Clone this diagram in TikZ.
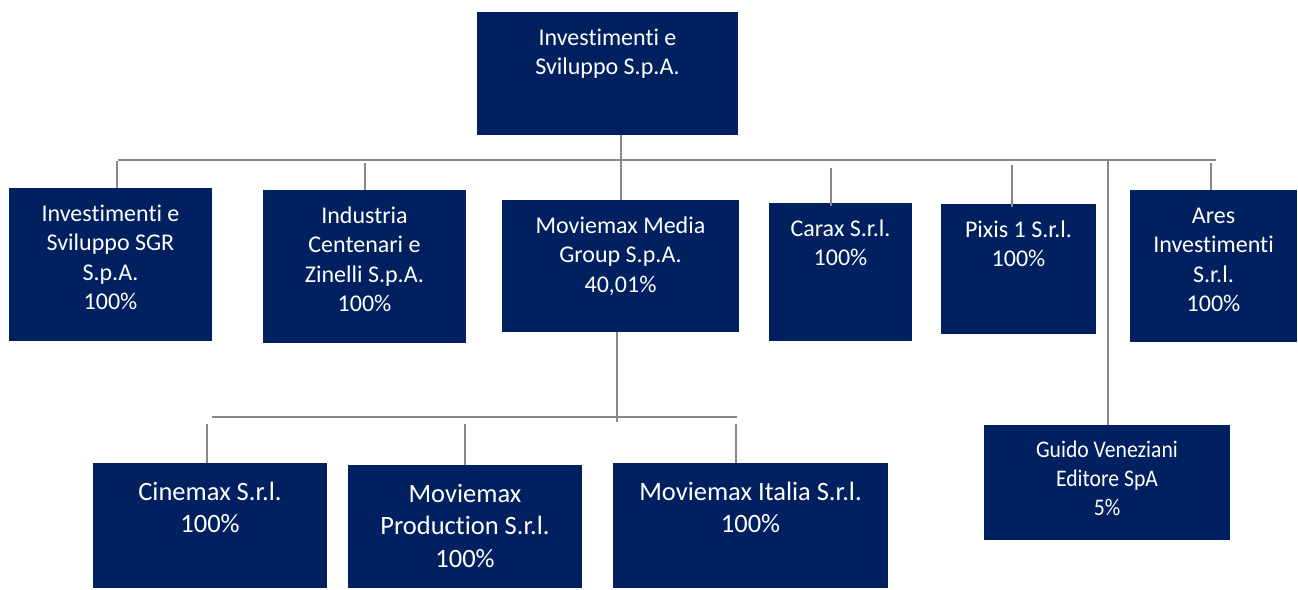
\documentclass[tikz,border=0pt]{standalone}
\usepackage{fontspec}
\setmainfont{Carlito}[Ligatures=NoCommon]
\newfontfamily\condfont[FakeStretch=0.91,Ligatures=NoCommon]{Carlito}
\definecolor{navy}{HTML}{002060}
\definecolor{linegray}{HTML}{888888}
\newcommand\orgtxt[4]{\parbox[c][#2pt][t]{#1pt}{\centering\rule{0pt}{#3pt}#4\par}}
\tikzset{
  orgbox/.style={rectangle, fill=navy, text=white, inner sep=0pt, outer sep=0pt},
  fmid/.style={font=\fontsize{24}{29.5}\selectfont},
  fbig/.style={font=\fontsize{26.5}{32.5}\selectfont},
  fcond/.style={font=\condfont\fontsize{23.8}{29}\selectfont},
  conn/.style={draw=linegray, line width=2.7pt}
}
\begin{document}
\begin{tikzpicture}[x=1pt,y=-1pt]
\useasboundingbox (0,0) rectangle (1298,589);
% boxes
\node[orgbox,fmid] (top) at (607.5,73.5) {\orgtxt{261}{123}{33}{Investimenti e\\Sviluppo S.p.A.}};
\node[orgbox,fmid] (b1) at (110.5,264.5) {\orgtxt{203}{153}{33}{Investimenti e\\Sviluppo SGR\\S.p.A.\\100\%}};
\node[orgbox,fmid] (b2) at (364.5,266.5) {\orgtxt{203}{153}{33}{Industria\\Centenari e\\Zinelli S.p.A.\\100\%}};
\node[orgbox,fmid] (b3) at (620.5,266) {\orgtxt{237}{132}{33}{Moviemax Media\\Group S.p.A.\\40,01\%}};
\node[orgbox,fmid] (b4) at (840.5,272) {\orgtxt{143}{138}{33}{Carax S.r.l.\\100\%}};
\node[orgbox,fmid] (b5) at (1018.5,269) {\orgtxt{155}{130}{33}{Pixis 1 S.r.l.\\100\%}};
\node[orgbox,fmid] (b6) at (1213.5,266) {\orgtxt{167}{152}{33}{Ares\\Investimenti\\S.r.l.\\100\%}};
\node[orgbox,fcond] (gv) at (1107,482.5) {\orgtxt{246}{115}{32}{Guido Veneziani\\Editore SpA\\5\%}};
\node[orgbox,fbig] (c1) at (210,525.5) {\orgtxt{234}{125}{37}{Cinemax S.r.l.\\100\%}};
\node[orgbox,fbig] (c2) at (465,526.5) {\orgtxt{234}{123}{37}{Moviemax\\Production S.r.l.\\100\%}};
\node[orgbox,fbig] (c3) at (750.5,525.5) {\orgtxt{275}{125}{37}{Moviemax Italia S.r.l.\\100\%}};
% upper bus
\coordinate (busL) at (118,160);
\coordinate (busR) at (1216,160);
\draw[conn] (busL) -- (busR);
\coordinate (sp) at (621,160);
\draw[conn] (top.south -| sp) -- (b3.north -| sp);
\coordinate (t1) at (117,161);
\coordinate (t2) at (365,163);
\coordinate (t4) at (831,168);
\coordinate (t5) at (1012,165);
\coordinate (t6) at (1211,163);
\draw[conn] (t1) -- (t1 |- b1.north);
\draw[conn] (t2) -- (t2 |- b2.north);
\draw[conn] (t4) -- ([yshift=-3pt]t4 |- b4.north);
\draw[conn] (t5) -- ([yshift=-3pt]t5 |- b5.north);
\draw[conn] (t6) -- (t6 |- b6.north);
\coordinate (g) at (1108,160);
\draw[conn] (g) -- (g |- gv.north);
% lower bus
\coordinate (mEnd) at (617,422);
\draw[conn] (b3.south -| mEnd) -- (mEnd);
\coordinate (lbL) at (212,417);
\coordinate (lbR) at (737,417);
\draw[conn] (lbL) -- (lbR);
\coordinate (u1) at (207,424);
\coordinate (u2) at (465,424);
\coordinate (u3) at (736,424);
\draw[conn] (u1) -- (u1 |- c1.north);
\draw[conn] (u2) -- (u2 |- c2.north);
\draw[conn] (u3) -- (u3 |- c3.north);
\end{tikzpicture}
\end{document}
